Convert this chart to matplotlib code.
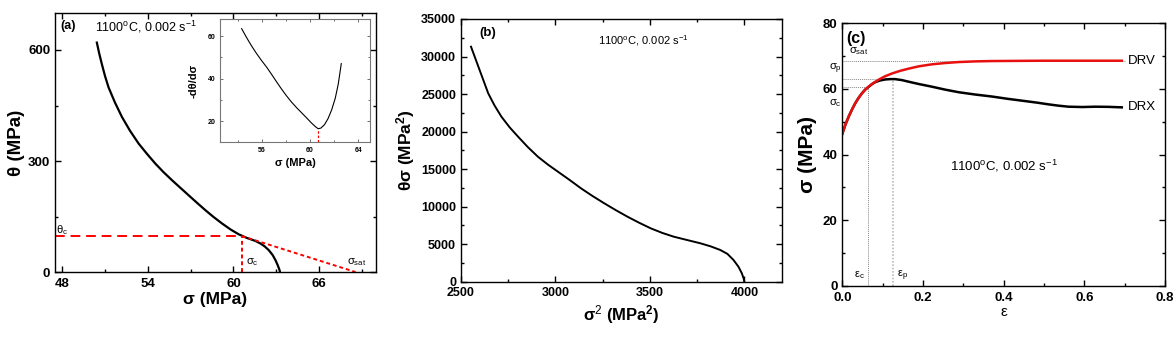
import matplotlib
matplotlib.use("Agg")
import matplotlib.pyplot as plt
from matplotlib.ticker import MultipleLocator

plt.rcParams['font.family'] = ['Liberation Sans', 'DejaVu Sans']
plt.rcParams['mathtext.fontset'] = 'custom'
plt.rcParams['mathtext.rm'] = 'Liberation Sans'
plt.rcParams['mathtext.it'] = 'Liberation Sans:italic'
plt.rcParams['mathtext.bf'] = 'Liberation Sans:bold'

# ---------------- data ----------------
# (a) theta vs sigma
sig_a = [50.43, 50.6, 50.78, 51.0, 51.25, 51.7, 52.19, 52.75, 53.36, 53.95,
         54.53, 55.1, 55.70, 56.3, 56.86, 57.45, 58.04, 58.6, 59.21, 59.8,
         60.37, 60.95, 61.54, 61.9, 62.2, 62.48, 62.75, 62.95, 63.1, 63.2, 63.25, 63.26]
theta_a = [620, 590, 562, 530, 499, 458, 419, 382, 347, 319,
           293, 270, 248, 227, 207.5, 187, 167, 149, 131, 115,
           102, 92, 84, 77, 69, 59, 46, 32, 19, 9, 3, 0]
theta_c = 97
sigma_c = 60.6
sigma_sat = 68.56

# inset: -dtheta/dsigma vs sigma
sig_in = [54.3, 54.7, 55.1, 55.5, 55.9, 56.4, 56.8, 57.2, 57.6, 58.0, 58.45, 58.9,
          59.3, 59.75, 60.1, 60.4, 60.67, 60.9, 61.2, 61.5, 61.8, 62.1, 62.35, 62.6]
dth_in = [63.6, 59.5, 55.7, 52.2, 49.0, 45.3, 42.0, 38.6, 35.3, 32.2, 29.0, 26.2,
          23.9, 21.3, 19.2, 17.6, 16.4, 16.7, 18.3, 21.2, 25.3, 30.8, 37.5, 47.1]
sig_in_min = 60.67

# (b) theta*sigma vs sigma^2
sig2_b = [2553, 2570, 2592, 2615, 2644, 2677, 2714, 2757, 2802, 2853, 2907, 2960,
          3013, 3075, 3135, 3197, 3258, 3320, 3381, 3443, 3504, 3565, 3626, 3697,
          3767, 3822, 3872, 3910, 3942, 3968, 3986, 3996, 3999]
ths_b = [31310, 30150, 28645, 27080, 25100, 23500, 21980, 20580, 19320, 17950, 16650, 15600,
         14655, 13550, 12440, 11400, 10445, 9520, 8660, 7850, 7110, 6500, 5995, 5550,
         5115, 4700, 4225, 3700, 2890, 2000, 1120, 400, 0]

# (c) flow curves
eps_drv = [0.0, 0.008, 0.016, 0.024, 0.032, 0.040, 0.049, 0.057, 0.065, 0.077,
           0.090, 0.105, 0.123, 0.143, 0.165, 0.19, 0.222, 0.255, 0.289, 0.33,
           0.371, 0.43, 0.495, 0.6, 0.693]
sig_drv = [46.3, 49.2, 51.6, 53.7, 55.6, 57.2, 58.7, 59.8, 60.7, 61.8,
           62.8, 63.8, 64.7, 65.5, 66.2, 66.9, 67.5, 67.9, 68.2, 68.4,
           68.5, 68.55, 68.6, 68.6, 68.6]
eps_drx = [0.0, 0.008, 0.016, 0.024, 0.032, 0.040, 0.049, 0.057, 0.065, 0.074,
           0.082, 0.094, 0.107, 0.119, 0.131, 0.148, 0.165, 0.19, 0.222, 0.255,
           0.289, 0.33, 0.371, 0.41, 0.454, 0.485, 0.512, 0.537, 0.561, 0.595,
           0.627, 0.66, 0.693]
sig_drx = [46.3, 49.2, 51.6, 53.7, 55.6, 57.2, 58.7, 59.8, 60.6, 61.5,
           62.1, 62.6, 62.9, 63.0, 63.0, 62.7, 62.2, 61.5, 60.7, 59.8,
           59.0, 58.3, 57.7, 57.0, 56.3, 55.8, 55.3, 54.9, 54.6, 54.5,
           54.6, 54.55, 54.4]
c_sat, c_p, c_c = 68.4, 62.9, 60.5
e_c, e_p = 0.065, 0.125

cond = r"1100$^{\rm o}$C, 0.002 s$^{-1}$"

fig = plt.figure(figsize=(11.76, 3.41), dpi=100)

def style(ax, lsize=9.5):
    ax.tick_params(which='both', direction='in', top=True, right=True)
    ax.tick_params(which='major', length=4, width=1, labelsize=lsize)
    ax.tick_params(which='minor', length=2.5, width=1)
    ax.tick_params(axis='x', pad=4)
    for s in ax.spines.values():
        s.set_linewidth(1.0)
    for lab in ax.get_xticklabels() + ax.get_yticklabels():
        lab.set_fontweight('bold')

# ---------- (a) ----------
axa = fig.add_axes([0.0468, 0.2023, 0.2730, 0.7596])
axa.plot(sig_a, theta_a, color='black', lw=1.6)
axa.plot([47.5, sigma_c], [theta_c, theta_c], color='red', ls=(0, (5, 3)), lw=1.4)
axa.plot([sigma_c, sigma_c], [0, theta_c], color='red', ls=(0, (2, 1.5)), lw=1.4)
axa.plot([sigma_c, sigma_sat], [theta_c, 0], color='red', ls=(0, (2, 1.5)), lw=1.4)
axa.set_xlim(47.5, 70)
axa.set_ylim(0, 700)
axa.set_xticks([48, 54, 60, 66])
axa.xaxis.set_minor_locator(MultipleLocator(3))
axa.yaxis.set_major_locator(MultipleLocator(300))
axa.yaxis.set_minor_locator(MultipleLocator(150))
axa.set_xlabel("σ (MPa)", fontsize=12.5, fontweight='bold', labelpad=2)
axa.set_ylabel("θ (MPa)", fontsize=13.5, fontweight='bold', labelpad=2)
style(axa)
axa.text(47.85, 665, "(a)", fontsize=9, fontweight='bold', va='center')
axa.text(50.3, 662, cond, fontsize=9, va='center')
axa.text(47.6, 112, r"θ$_{\rm c}$", fontsize=8, va='center')
axa.text(60.85, 28, r"σ$_{\rm c}$", fontsize=8, va='center')
axa.text(67.95, 28, r"σ$_{\rm sat}$", fontsize=8, va='center')

# inset
axi = fig.add_axes([0.1871, 0.5827, 0.1276, 0.3607])
axi.plot(sig_in, dth_in, color='black', lw=0.8)
axi.plot([sig_in_min, sig_in_min], [10, 16.4], color='red', ls=(0, (2, 1.5)), lw=0.9)
axi.set_xlim(52.5, 65)
axi.set_ylim(10, 68)
axi.set_xticks([56, 60, 64])
axi.set_yticks([20, 40, 60])
axi.xaxis.set_minor_locator(MultipleLocator(2))
axi.yaxis.set_minor_locator(MultipleLocator(10))
axi.tick_params(which='both', direction='in', top=True, right=True, labelsize=5,
                width=0.6, colors='#555555', labelcolor='black')
axi.tick_params(which='major', length=2.5)
axi.tick_params(which='minor', length=1.5)
for s in axi.spines.values():
    s.set_linewidth(0.8)
    s.set_color('#777777')
for lab in axi.get_xticklabels() + axi.get_yticklabels():
    lab.set_fontweight('bold')
axi.set_xlabel("σ (MPa)", fontsize=8, fontweight='bold', labelpad=3)
axi.set_ylabel("-dθ/dσ", fontsize=8, fontweight='bold', labelpad=6)

# ---------- (b) ----------
axb = fig.add_axes([0.3920, 0.1739, 0.2732, 0.7704])
axb.plot(sig2_b, ths_b, color='black', lw=1.4)
axb.set_xlim(2500, 4200)
axb.set_ylim(0, 35000)
axb.xaxis.set_major_locator(MultipleLocator(500))
axb.xaxis.set_minor_locator(MultipleLocator(250))
axb.yaxis.set_major_locator(MultipleLocator(5000))
axb.yaxis.set_minor_locator(MultipleLocator(2500))
axb.set_xlabel(r"σ$^{2}$ (MPa$^{\mathbf{2}}$)", fontsize=12, fontweight='bold', labelpad=3)
axb.set_ylabel(r"θσ (MPa$^{\mathbf{2}}$)", fontsize=12.5, fontweight='bold', labelpad=3)
style(axb, 9)
axb.text(2595, 33100, "(b)", fontsize=9.5, fontweight='bold', va='center')
axb.text(3225, 32100, cond, fontsize=8, va='center')

# ---------- (c) ----------
axc = fig.add_axes([0.7162, 0.1613, 0.2744, 0.7704])
gl = dict(color='#888888', ls=(0, (1, 1)), lw=0.7)
axc.plot([0, 0.7], [c_sat, c_sat], **gl)
axc.plot([0, e_p], [c_p, c_p], **gl)
axc.plot([0, e_c], [c_c, c_c], **gl)
axc.plot([e_c, e_c], [0, c_c], **gl)
axc.plot([e_p, e_p], [0, c_p], color='#bbbbbb', ls=(0, (1, 1)), lw=1.2)
axc.plot(eps_drx, sig_drx, color='black', lw=1.8)
axc.plot(eps_drv, sig_drv, color='#e8100f', lw=1.8)
axc.set_xlim(0, 0.8)
axc.set_ylim(0, 80)
axc.xaxis.set_minor_locator(MultipleLocator(0.1))
axc.yaxis.set_major_locator(MultipleLocator(20))
axc.yaxis.set_minor_locator(MultipleLocator(10))
axc.set_xticks([0.0, 0.2, 0.4, 0.6, 0.8])
axc.set_xticklabels(['0.0', '0.2', '0.4', '0.6', '0.8'])
axc.set_xlabel("ε", fontsize=11, labelpad=1)
axc.set_ylabel("σ (MPa)", fontsize=15, fontweight='bold', labelpad=4)
style(axc, 9.5)
axc.text(0.01, 75.5, "(c)", fontsize=11.5, fontweight='bold', va='center')
axc.text(0.708, 68.6, "DRV", fontsize=9.5, va='center')
axc.text(0.708, 54.4, "DRX", fontsize=9.5, va='center')
axc.text(0.40, 36.5, cond, fontsize=9.5, va='center', ha='center')
axc.text(0.017, 71.6, r"σ$_{\rm sat}$", fontsize=8, va='center')
axc.text(-0.034, 66.0, r"σ$_{\rm p}$", fontsize=8, va='center')
axc.text(-0.034, 55.6, r"σ$_{\rm c}$", fontsize=8, va='center')
axc.text(0.028, 3.2, r"ε$_{\rm c}$", fontsize=8, va='center')
axc.text(0.135, 3.2, r"ε$_{\rm p}$", fontsize=8, va='center')

fig.savefig("out.png", dpi=100)
